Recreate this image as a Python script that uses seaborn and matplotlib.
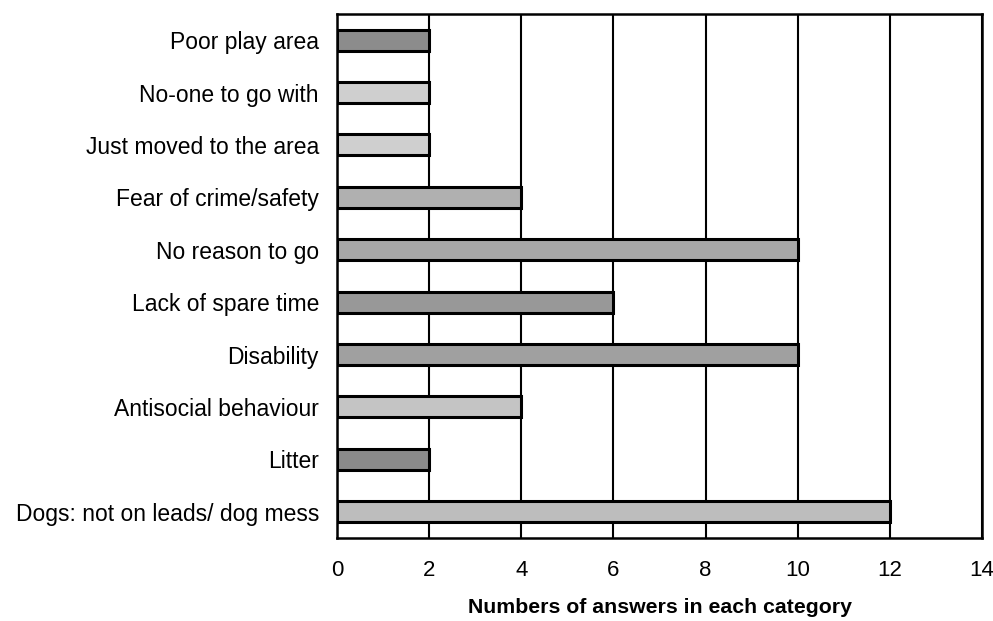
import matplotlib
matplotlib.use("Agg")
import matplotlib.pyplot as plt
import seaborn as sns
import pandas as pd
import numpy as np

categories = ["Poor play area", "No-one to go with", "Just moved to the area",
              "Fear of crime/safety", "No reason to go", "Lack of spare time",
              "Disability", "Antisocial behaviour", "Litter",
              "Dogs: not on leads/ dog mess"]
values = [2, 2, 2, 4, 10, 6, 10, 4, 2, 12]
bar_colors = ["#8c8c8c", "#cfcfcf", "#cfcfcf", "#b0b0b0", "#a8a8a8",
              "#989898", "#a0a0a0", "#c4c4c4", "#8a8a8a", "#bdbdbd"]
xticks = [0, 2, 4, 6, 8, 10, 12, 14]

sns.set_style("white")
plt.rcParams['font.family'] = ['Liberation Sans', 'DejaVu Sans']
plt.rcParams['text.color'] = 'black'
plt.rcParams['xtick.color'] = 'black'
plt.rcParams['ytick.color'] = 'black'
plt.rcParams['axes.labelcolor'] = 'black'

df = pd.DataFrame({"cat": categories, "val": values})
fig = plt.figure(figsize=(9.93, 6.21), dpi=100)
ax = fig.add_axes([0.3394, 0.1337, 0.6495, 0.8438])

sns.barplot(data=df, y="cat", x="val", hue="cat", palette=bar_colors,
            orient="h", width=0.4, edgecolor="black", linewidth=2.2,
            legend=False, ax=ax)
for p in ax.patches:
    p.set_zorder(3)

ax.set_xlim(0, 14)
ax.set_ylim(len(categories) - 0.5, -0.5)
ax.set_xticks(xticks)
ax.set_xticklabels([str(t) for t in xticks])
ax.xaxis.grid(True, color="black", linewidth=1.5)
ax.yaxis.grid(False)
ax.set_axisbelow(True)

ax.set_yticks(range(len(categories)))
ax.set_yticklabels(categories)
ax.set_yticks(np.arange(-0.5, len(categories), 1.0), minor=True)
ax.tick_params(axis="y", which="major", length=0, pad=13, labelsize=16.5)
ax.tick_params(axis="y", which="minor", length=5, width=1.3, color="black", direction="out")
ax.tick_params(axis="x", which="major", length=7, width=1.3, color="black",
               direction="out", pad=9, labelsize=16)
ax.set_ylabel("")
ax.set_xlabel("Numbers of answers in each category", fontsize=15.3,
              fontweight="bold", labelpad=12)

for s in ax.spines.values():
    s.set_visible(True)
    s.set_color("black")
    s.set_linewidth(1.8)

fig.savefig("out.png", dpi=100)
